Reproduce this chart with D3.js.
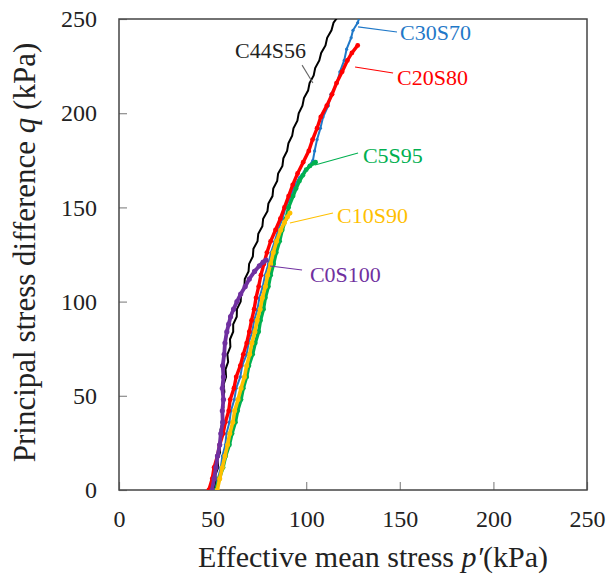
<!DOCTYPE html>
<html>
<head>
<meta charset="utf-8">
<script src="https://cdn.jsdelivr.net/npm/d3@7"></script>
<style>
  html, body { margin: 0; padding: 0; background: #fff; }
  svg { display: block; }
</style>
</head>
<body>
<svg id="chart" width="607" height="576"></svg>
<script>
// ---- data: [p' (kPa), q (kPa)] ----
const seriesNames = ["C44S56", "C30S70", "C20S80", "C5S95", "C10S90", "C0S100"];

const C44S56 = [[50.5,0],[51.8,4],[51.5,8],[53,12],[52.6,16],[54,20],[53.6,24],[54.8,28],[54.2,32],[55.4,36],[55,40],[55.8,44],[55.2,48],[56.3,52],[55.9,56],[57.2,60],[56.9,64],[58.3,68],[57.9,72],[59.5,76],[59.3,80],[61,84],[61,88],[62.9,92],[63,96],[65,100],[65.2,104],[67,108],[67.2,112],[69.2,116],[69.5,120],[71.5,124],[71.8,128],[74,132],[74.4,136],[76.6,140],[77,144],[79.3,148],[79.8,152],[82,156],[82.4,160],[84.5,164],[85,168],[87.3,172],[87.8,176],[89.8,180],[90.5,184],[92.5,188],[93.2,192],[95.3,196],[96,200],[98,204],[98.8,208],[101,212],[101.8,216],[104,220],[104.8,224],[107,228],[108,232],[110.3,236],[111.2,240],[113.5,244],[114.6,248],[117.5,252]];

const C30S70 = [[51.5,0],[52.8,6],[54.4,12],[55.2,18],[56.8,24],[57.4,30],[59,36],[59.8,42],[61.6,48],[62.6,54],[64.8,60],[65.8,66],[68.2,72],[69.2,78],[71.2,84],[72.2,90],[74,96],[75,102],[76.8,108],[78,114],[79.8,120],[81.2,126],[83.2,132],[85,138],[87.3,144],[89,150],[91.8,156],[94,162],[96.5,166],[99,169],[101.5,172],[103.6,175],[104.5,180],[105.8,186],[107.6,192],[109,198],[111.8,204],[113.2,210],[116.5,216],[118,222],[120.3,228],[121.6,234],[124,240],[125,244],[127.5,248],[128.8,252]];

const C20S80 = [[48,0],[49.8,6],[50.8,12],[52.6,18],[53.8,24],[55.6,30],[56.8,36],[58.6,42],[59.4,48],[61.4,54],[62.6,60],[64.8,66],[66.4,72],[68.2,78],[69.6,84],[70.8,90],[72.2,96],[73.2,102],[74.6,108],[75.8,114],[77.4,120],[79,126],[81,132],[83.6,138],[86.2,144],[88.4,150],[90.6,156],[92.8,162],[95.4,168],[98.4,174],[101.4,180],[103.4,186],[105.8,192],[107.8,198],[111,204],[113.8,210],[116.2,216],[119.2,222],[122,228],[124.4,232],[127.5,236]];

const C5S95 = [[51.8,0],[53.6,6],[55.6,12],[57,18],[59,24],[60.4,30],[62.2,36],[63.4,42],[65.2,48],[66.4,54],[68.2,60],[69.4,66],[71.4,72],[72.8,78],[74.6,84],[75.6,90],[77.2,96],[78.2,102],[79.8,108],[81,114],[82.6,120],[84,126],[85.8,132],[87.2,138],[89.2,144],[90.6,150],[93,156],[94.6,160],[96.4,164],[98.2,167],[100,170],[102,172],[104,173.5],[105,174]];

const C10S90 = [[52.5,0],[53.8,6],[55.2,12],[56.6,18],[58,24],[59.2,30],[60.8,36],[61.8,42],[63.6,48],[65.2,54],[67,60],[68.2,66],[69.8,72],[71,78],[72.6,84],[73.8,90],[75.4,96],[76.6,102],[78.2,108],[79.4,114],[81,120],[82.4,126],[84.2,132],[86.4,138],[88.4,142],[90,145],[91.3,147]];

const C0S100 = [[49.7,0],[50.8,6],[51.8,12],[52.6,18],[53.8,24],[54.4,30],[55.4,36],[55.2,42],[55.8,48],[55.2,54],[55.8,60],[55.4,66],[56.2,72],[56.6,78],[57.6,84],[58.6,88],[59.6,92],[61.2,96],[63,100],[65,104],[67.4,108],[69.6,112],[72.4,116],[75,119],[77,121],[78.5,122]];

const xTicks = [0, 50, 100, 150, 200, 250];
const yTicks = [0, 50, 100, 150, 200, 250];

// label anchors and leader line ends, in data coordinates
const labelPos = {
  C44S56: { text: [62, 229.3],    lead: [[97.8,225.5],[103.6,216]] },
  C30S70: { text: [150.1, 238.9], lead: [[148.5,243.1],[127.7,245.8]] },
  C20S80: { text: [148.5, 215],   lead: [[146.4,221.3],[126.1,224.5]] },
  C5S95:  { text: [130.3, 173.6], lead: [[127.7,178.9],[104.7,172.5]] },
  C10S90: { text: [116.5, 141.7], lead: [[114.3,147],[91.3,141.7]] },
  C0S100: { text: [102, 110.4],   lead: [[97.8,116.8],[80.7,118.9]] }
};

// ---- styles ----
const FONT = "'Liberation Serif', 'Times New Roman', Times, 'Nimbus Roman', 'DejaVu Serif', serif";
const colors = {
  C44S56: "#000000", C30S70: "#1F78C8", C20S80: "#FF0000",
  C5S95: "#00B050", C10S90: "#FFC000", C0S100: "#7030A0"
};
const lineW = { C44S56: 2, C30S70: 2, C20S80: 3.4, C5S95: 3.4, C10S90: 3.6, C0S100: 3.8 };
const dotR  = { C44S56: 0, C30S70: 1.6, C20S80: 2.4, C5S95: 2.4, C10S90: 2.5, C0S100: 2.6 };
const leaderColors = Object.assign({}, colors, { C44S56: "#666666" });
const dataMap = { C44S56, C30S70, C20S80, C5S95, C10S90, C0S100 };

const svg = d3.select("#chart").style("font-family", FONT);
const margin = { left: 119, right: 20, top: 19, bottom: 86 };
const W = 607, H = 576;

const x = d3.scaleLinear().domain([0, 250]).range([margin.left, W - margin.right]);
const y = d3.scaleLinear().domain([0, 250]).range([H - margin.bottom, margin.top]);

svg.append("defs").append("clipPath").attr("id", "clip")
  .append("rect").attr("x", x(0)).attr("y", y(250))
  .attr("width", x(250) - x(0)).attr("height", y(0) - y(250));

// axes with inward ticks
const xAxis = svg.append("g").attr("transform", `translate(0,${y(0)})`)
  .call(d3.axisBottom(x).tickValues(xTicks).tickSize(-8).tickPadding(20).tickFormat(d3.format("d")));
const yAxis = svg.append("g").attr("transform", `translate(${x(0)},0)`)
  .call(d3.axisLeft(y).tickValues(yTicks).tickSize(-8).tickPadding(22).tickFormat(d3.format("d")));
[xAxis, yAxis].forEach(g => {
  g.attr("font-family", FONT);
  g.select(".domain").remove();
  g.selectAll(".tick line").attr("stroke", "#8c8c8c").attr("stroke-width", 1.2);
  g.selectAll(".tick text").attr("font-size", 24).attr("fill", "#222").attr("font-family", FONT);
});

// frame
svg.append("rect").attr("x", x(0)).attr("y", y(250))
  .attr("width", x(250) - x(0)).attr("height", y(0) - y(250))
  .attr("fill", "none").attr("stroke", "#444").attr("stroke-width", 1.5);

// curves
const line = d3.line().x(d => x(d[0])).y(d => y(d[1]));
const plot = svg.append("g").attr("clip-path", "url(#clip)");
seriesNames.forEach(name => {
  plot.append("path").datum(dataMap[name])
    .attr("d", line)
    .attr("fill", "none")
    .attr("stroke", colors[name])
    .attr("stroke-width", lineW[name])
    .attr("stroke-linejoin", "miter")
    .attr("stroke-linecap", "round");
  if (dotR[name] > 0) {
    plot.append("g").selectAll("circle").data(dataMap[name]).join("circle")
      .attr("cx", d => x(d[0])).attr("cy", d => y(d[1])).attr("r", dotR[name])
      .attr("fill", colors[name]);
  }
});

// labels + leader lines
seriesNames.forEach(name => {
  const lp = labelPos[name];
  svg.append("line")
    .attr("x1", x(lp.lead[0][0])).attr("y1", y(lp.lead[0][1]))
    .attr("x2", x(lp.lead[1][0])).attr("y2", y(lp.lead[1][1]))
    .attr("stroke", leaderColors[name]).attr("stroke-width", 1.1);
  svg.append("text")
    .attr("x", x(lp.text[0])).attr("y", y(lp.text[1]))
    .attr("font-family", FONT)
    .attr("font-size", 22).attr("fill", name === "C44S56" ? "#222" : colors[name])
    .text(name);
});

// axis titles
const xt = svg.append("text").attr("x", 373).attr("y", 567)
  .attr("text-anchor", "middle").attr("font-size", 30).attr("fill", "#222").attr("font-family", FONT);
xt.append("tspan").text("Effective mean stress  ");
xt.append("tspan").attr("font-style", "italic").text("p′");
xt.append("tspan").text("(kPa)");

const yt = svg.append("text")
  .attr("transform", `translate(35,${(y(0) + y(250)) / 2 - 2}) rotate(-90)`)
  .attr("text-anchor", "middle").attr("font-size", 31).attr("fill", "#222").attr("font-family", FONT);
yt.append("tspan").text("Principal stress difference  ");
yt.append("tspan").attr("font-style", "italic").text("q");
yt.append("tspan").text(" (kPa)");
</script>
</body>
</html>
